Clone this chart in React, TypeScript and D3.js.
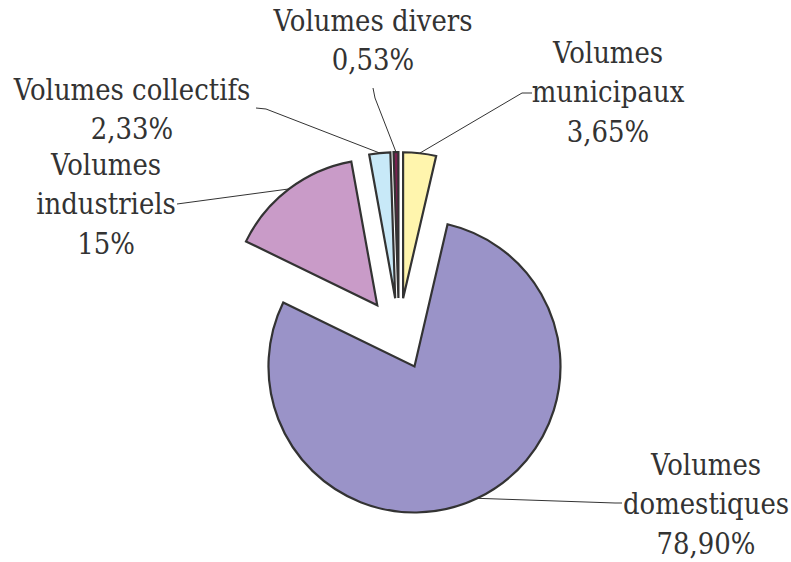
import React from "react";
import * as d3 from "d3";

const categories = [
  "Volumes municipaux",
  "Volumes domestiques",
  "Volumes industriels",
  "Volumes collectifs",
  "Volumes divers",
];
const values = [3.65, 78.9, 15, 2.33, 0.53];
const valueLabels = ["3,65%", "78,90%", "15%", "2,33%", "0,53%"];
const labelLines = [
  ["Volumes", "municipaux", "3,65%"],
  ["Volumes", "domestiques", "78,90%"],
  ["Volumes", "industriels", "15%"],
  ["Volumes collectifs", "2,33%"],
  ["Volumes divers", "0,53%"],
];
const colors = ["#FFF5AD", "#9A93C8", "#C99BC8", "#C8E9F8", "#7B2050"];

// layout (label positions: center x, first baseline; leader anchor points)
const labelPos = [
  { x: 608, y: 63, anchor: [[522, 93], [532, 93]] },
  { x: 706, y: 475, anchor: [[615, 503], [622, 503]] },
  { x: 106, y: 175, anchor: [[177, 204]] },
  { x: 132, y: 100, anchor: [[266, 109], [256, 108]] },
  { x: 373, y: 31, anchor: [[375, 98], [373, 88]] },
];

const W = 791;
const H = 562;
const CX = 399;
const CY = 334;
const R = 146;
const EXPLODE = 36;
const LINE_H = 39.5;
const FONT = '"DejaVu Serif", serif';
const SX = 0.895;

export default function App() {
  const pie = d3.pie<number>().sort(null).value((d) => d)(values);
  const arc = d3.arc<d3.PieArcDatum<number>>().innerRadius(0).outerRadius(R);

  return (
    <svg
      width={W}
      height={H}
      style={{ position: "absolute", left: 0, top: 0, background: "#fff" }}
    >
      {pie.map((p, i) => {
        const mid = (p.startAngle + p.endAngle) / 2;
        const ox = Math.sin(mid) * EXPLODE;
        const oy = -Math.cos(mid) * EXPLODE;
        return (
          <path
            key={categories[i]}
            d={arc(p) || ""}
            transform={`translate(${CX + ox},${CY + oy})`}
            fill={colors[i]}
            stroke="#333"
            strokeWidth={2.2}
            strokeLinejoin="miter"
          />
        );
      })}
      {pie.map((p, i) => {
        const mid = (p.startAngle + p.endAngle) / 2;
        const ex = CX + Math.sin(mid) * (EXPLODE + R);
        const ey = CY - Math.cos(mid) * (EXPLODE + R);
        const pts: [number, number][] = [[ex, ey], ...(labelPos[i].anchor as [number, number][])];
        return (
          <path
            key={"l" + i}
            d={d3.line()(pts) || ""}
            fill="none"
            stroke="#333"
            strokeWidth={1}
          />
        );
      })}
      {labelLines.map((lines, i) => (
        <text
          key={"t" + i}
          transform={`translate(${labelPos[i].x},${labelPos[i].y}) scale(${SX},1)`}
          textAnchor="middle"
          fill="#333"
          style={{ fontFamily: FONT, fontSize: "29px" }}
          aria-label={`${categories[i]} ${valueLabels[i]}`}
        >
          {lines.map((ln, j) => (
            <tspan key={j} x={0} y={j * LINE_H}>
              {ln}
            </tspan>
          ))}
        </text>
      ))}
    </svg>
  );
}
